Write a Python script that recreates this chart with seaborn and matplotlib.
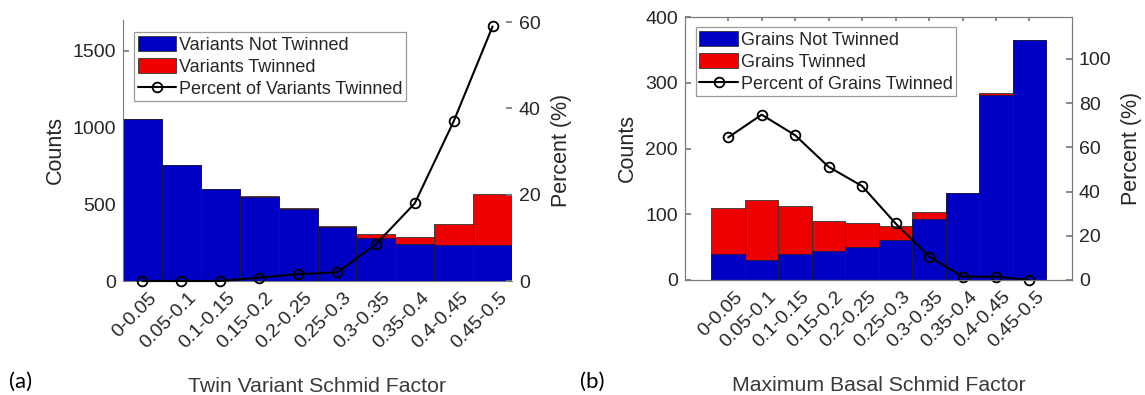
import numpy as np
import pandas as pd
import seaborn as sns
import matplotlib
matplotlib.use("Agg")
import matplotlib.pyplot as plt
import matplotlib.transforms as mtransforms
from matplotlib.patches import Patch
from matplotlib.lines import Line2D

# Schmid factor bins shared by both panels
bins = ["0-0.05", "0.05-0.1", "0.1-0.15", "0.15-0.2", "0.2-0.25",
        "0.25-0.3", "0.3-0.35", "0.35-0.4", "0.4-0.45", "0.45-0.5"]

# (a) twin variants
variants_not_twinned = [1055, 758, 602, 550, 470, 354, 280, 238, 235, 233]
variants_twinned = [0, 0, 0, 5, 8, 7, 26, 50, 136, 332]
pct_variants_twinned = [0.0, 0.0, 0.0, 0.8, 1.6, 2.0, 8.5, 18.0, 37.0, 59.0]

# (b) grains by maximum basal Schmid factor
grains_not_twinned = [40, 31, 40, 44, 50, 61, 93, 132, 281, 365]
grains_twinned = [70, 91, 73, 46, 37, 21, 11, 1, 4, 0]
pct_grains_twinned = [64.5, 74.8, 65.5, 51.2, 42.5, 25.6, 10.6, 1.5, 1.5, 0.0]

BLUE = "#0000C4"
RED = "#EE0000"
TXT = "#262626"
AX = "#7a7a7a"

sns.set_theme(style="white")
plt.rcParams["font.family"] = ["Liberation Sans", "DejaVu Sans"]
plt.rcParams["axes.edgecolor"] = AX
plt.rcParams["axes.linewidth"] = 0.8

fig = plt.figure(figsize=(11.45, 3.95), dpi=100)
W, H = 1145, 395


def axes_px(left, right, top, bottom):
    return fig.add_axes([left / W, (H - bottom) / H, (right - left) / W, (bottom - top) / H])


def panel(ax, not_tw, tw, pct, ylim_l, ylim_r, yticks_r, xlim, names, xlabel, box):
    df = pd.DataFrame({"bin": bins,
                       "total": np.array(not_tw) + np.array(tw),
                       "not": not_tw})
    sns.barplot(data=df, x="bin", y="total", color=RED, saturation=1, width=1.0,
                edgecolor="#333333", linewidth=0.6, ax=ax)
    sns.barplot(data=df, x="bin", y="not", color=BLUE, saturation=1, width=1.0,
                edgecolor="#1a1a40", linewidth=0.6, ax=ax)
    ax.set_xlim(*xlim)
    ax.set_ylim(*ylim_l)
    ax.set_ylabel("Counts", fontsize=15.5, color=TXT, labelpad=5)
    ax.set_xlabel(xlabel, fontsize=15.3, color="#3a3a3a", labelpad=18)
    ax.set_xticks(range(len(bins)))
    ax.set_xticklabels(bins, rotation=45, ha="right", va="top",
                       rotation_mode="anchor", fontsize=14, color=TXT)
    ax.tick_params(axis="y", labelsize=14, labelcolor=TXT, direction="in",
                   length=4, color=AX, left=True, pad=5)

    ax2 = ax.twinx()
    sns.lineplot(x=np.arange(len(bins)), y=pct, ax=ax2, color="black", lw=1.5,
                 marker="o", markersize=7, markerfacecolor="none",
                 markeredgecolor="black", markeredgewidth=1.3, clip_on=False)
    ax2.set_ylim(*ylim_r)
    ax2.set_yticks(yticks_r)
    ax2.set_ylabel("Percent (%)", fontsize=15.5, color=TXT, labelpad=7)
    ax2.tick_params(axis="y", labelsize=14, labelcolor=TXT, direction="in",
                    length=4, color=AX, right=True, pad=5)

    handles = [Patch(facecolor=BLUE, edgecolor="#333333", linewidth=0.6),
               Patch(facecolor=RED, edgecolor="#333333", linewidth=0.6),
               Line2D([], [], color="black", lw=1.5, marker="o", markersize=7,
                      markerfacecolor="none", markeredgecolor="black", markeredgewidth=1.3)]
    leg = ax2.legend(handles, names, loc="upper left", bbox_to_anchor=box,
                     fontsize=13, frameon=True, fancybox=False, framealpha=1,
                     edgecolor="#9a9a9a", borderpad=0.2, borderaxespad=0,
                     handlelength=2.14, handleheight=0.95, handletextpad=0.15,
                     labelspacing=0.22)
    leg.get_frame().set_linewidth(0.9)
    for t in leg.get_texts():
        t.set_color(TXT)
    return ax, ax2


# (a)
axa = axes_px(123, 512, 20, 281)
a1, a2 = panel(axa, variants_not_twinned, variants_twinned, pct_variants_twinned,
               (0, 1700), (0, 60.5), [0, 20, 40, 60], (-0.5, 9.5),
               ["Variants Not Twinned", "Variants Twinned", "Percent of Variants Twinned"],
               "Twin Variant Schmid Factor", (0.028, 0.954))
for s in ("top", "right"):
    a1.spines[s].set_visible(False)
    a2.spines[s].set_visible(False)
a2.spines["left"].set_visible(False)
a2.spines["bottom"].set_visible(False)
a1.tick_params(axis="x", length=0, pad=3)

# (b)
axb = axes_px(685, 1072, 17, 280)
b1, b2 = panel(axb, grains_not_twinned, grains_twinned, pct_grains_twinned,
               (0, 400), (0, 119), [0, 20, 40, 60, 80, 100], (-1.29, 10.27),
               ["Grains Not Twinned", "Grains Twinned", "Percent of Grains Twinned"],
               "Maximum Basal Schmid Factor", (0.028, 0.962))
b1.tick_params(axis="x", direction="in", length=3, color=AX, top=True, bottom=True, pad=3)
b1.set_yticks([0, 100, 200, 300, 400])

fig.text(9 / W, (H - 382) / H, "(a)", fontsize=16, family=["Lato", "DejaVu Sans"],
         color="black", va="center", ha="left")
fig.text(580 / W, (H - 382) / H, "(b)", fontsize=16, family=["Lato", "DejaVu Sans"],
         color="black", va="center", ha="left")

# nudge the slanted bin labels a little right and down once the ticks exist
fig.canvas.draw()
shift = mtransforms.ScaledTranslation(6 / 100, -4 / 100, fig.dpi_scale_trans)
for axis_ in (a1, b1):
    for tick in axis_.xaxis.get_major_ticks():
        tick.label1.set_transform(tick.label1.get_transform() + shift)

fig.savefig("out.png", dpi=100)
